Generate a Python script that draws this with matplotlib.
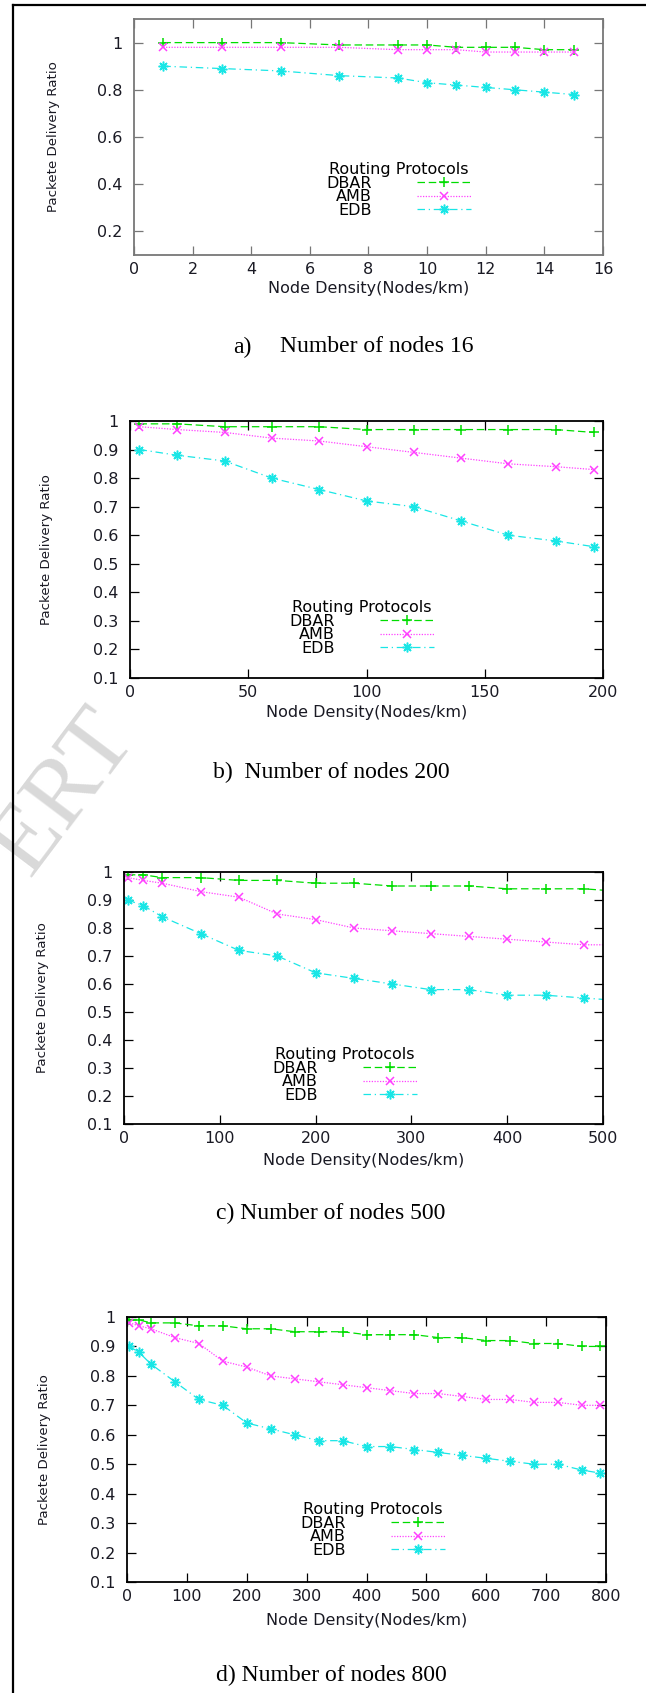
import matplotlib
matplotlib.use("Agg")
import matplotlib.pyplot as plt
from matplotlib.lines import Line2D

# ---- data ----
a_x = [1, 3, 5, 7, 9, 10, 11, 12, 13, 14, 15]
a_dbar = [1.00, 1.00, 1.00, 0.99, 0.99, 0.99, 0.98, 0.98, 0.98, 0.97, 0.97]
a_amb = [0.98, 0.98, 0.98, 0.98, 0.97, 0.97, 0.97, 0.96, 0.96, 0.96, 0.96]
a_edb = [0.90, 0.89, 0.88, 0.86, 0.85, 0.83, 0.82, 0.81, 0.80, 0.79, 0.78]

b_x = [4, 20, 40, 60, 80, 100, 120, 140, 160, 180, 196]
b_dbar = [0.99, 0.99, 0.98, 0.98, 0.98, 0.97, 0.97, 0.97, 0.97, 0.97, 0.96]
b_amb = [0.98, 0.97, 0.96, 0.94, 0.93, 0.91, 0.89, 0.87, 0.85, 0.84, 0.83]
b_edb = [0.90, 0.88, 0.86, 0.80, 0.76, 0.72, 0.70, 0.65, 0.60, 0.58, 0.56]

c_x = [4, 20, 40, 80, 120, 160, 200, 240, 280, 320, 360, 400, 440, 480, 520]
c_dbar = [0.99, 0.99, 0.98, 0.98, 0.97, 0.97, 0.96, 0.96, 0.95, 0.95, 0.95, 0.94, 0.94, 0.94, 0.93]
c_amb = [0.98, 0.97, 0.96, 0.93, 0.91, 0.85, 0.83, 0.80, 0.79, 0.78, 0.77, 0.76, 0.75, 0.74, 0.74]
c_edb = [0.90, 0.88, 0.84, 0.78, 0.72, 0.70, 0.64, 0.62, 0.60, 0.58, 0.58, 0.56, 0.56, 0.55, 0.54]

d_x = [4, 20, 40, 80, 120, 160, 200, 240, 280, 320, 360, 400, 440, 480, 520,
       560, 600, 640, 680, 720, 760, 790]
d_dbar = [0.99, 0.99, 0.98, 0.98, 0.97, 0.97, 0.96, 0.96, 0.95, 0.95, 0.95, 0.94,
          0.94, 0.94, 0.93, 0.93, 0.92, 0.92, 0.91, 0.91, 0.90, 0.90]
d_amb = [0.98, 0.97, 0.96, 0.93, 0.91, 0.85, 0.83, 0.80, 0.79, 0.78, 0.77, 0.76,
         0.75, 0.74, 0.74, 0.73, 0.72, 0.72, 0.71, 0.71, 0.70, 0.70]
d_edb = [0.90, 0.88, 0.84, 0.78, 0.72, 0.70, 0.64, 0.62, 0.60, 0.58, 0.58, 0.56,
         0.56, 0.55, 0.54, 0.53, 0.52, 0.51, 0.50, 0.50, 0.48, 0.47]

protocols = ["DBAR", "AMB", "EDB"]
captions = ["Number of nodes 16", "b)  Number of nodes 200",
            "c) Number of nodes 500", "d) Number of nodes 800"]

W, H = 646, 1693
FS = 11.5      # horizontal sans text
FS_Y = 9.6     # rotated y label (reference text is squashed vertically)

def rect(l, t, r, b):
    return [l / W, 1 - b / H, (r - l) / W, (b - t) / H]

def fx(x):
    return x / W

def fy(y):
    return 1 - y / H

GREEN = "#00dd00"
MAGENTA = "#ff40ff"
CYAN = "#19e6e6"
TXT = "#1a1a24"

fig = plt.figure(figsize=(W / 100, H / 100), dpi=100)
plt.rcParams['font.family'] = ['DejaVu Sans']

# page frame (left and top edges only)
fig.add_artist(Line2D([fx(13), fx(13)], [fy(5), 0], color="black", lw=1.6))
fig.add_artist(Line2D([fx(13), 1], [fy(5), fy(5)], color="black", lw=1.6))

# watermark
fig.text(fx(118), fy(722), "ERT", family="Liberation Serif", fontsize=70,
         color="#d9d9d9", rotation=53, rotation_mode="anchor",
         ha="right", va="center", zorder=0)

panels = [
    dict(box=(134, 19, 603, 255), x=a_x, ys=(a_dbar, a_amb, a_edb),
         xlim=(0, 16), xt=range(0, 17, 2), ylim=(0.1, 1.1),
         yt=[0.2, 0.4, 0.6, 0.8, 1.0], leg=(399, 190), xl=288, yl=54,
         cap=347, frame="#777777"),
    dict(box=(130, 421, 603, 678), x=b_x, ys=(b_dbar, b_amb, b_edb),
         xlim=(0, 200), xt=range(0, 201, 50), ylim=(0.1, 1.0),
         yt=[i / 10 for i in range(1, 11)], leg=(362, 628), xl=713, yl=47,
         cap=772, frame="black"),
    dict(box=(124, 872, 603, 1124), x=c_x, ys=(c_dbar, c_amb, c_edb),
         xlim=(0, 500), xt=range(0, 501, 100), ylim=(0.1, 1.0),
         yt=[i / 10 for i in range(1, 11)], leg=(345, 1075), xl=1160, yl=43,
         cap=1213, frame="black"),
    dict(box=(127, 1317, 606, 1582), x=d_x, ys=(d_dbar, d_amb, d_edb),
         xlim=(0, 800), xt=range(0, 801, 100), ylim=(0.1, 1.0),
         yt=[i / 10 for i in range(1, 11)], leg=(373, 1530), xl=1620, yl=45,
         cap=1675, frame="black"),
]

styles = [
    dict(color=GREEN, ls=(0, (6, 3)), marker="+", ms=7),
    dict(color=MAGENTA, ls=(0, (1, 1.2)), marker="x", ms=5.5),
    dict(color=CYAN, ls=(0, (6, 3, 1, 3)), marker=(8, 2, 0), ms=7),
]

for i, p in enumerate(panels):
    l, t, r, b = p["box"]
    ax = fig.add_axes(rect(l, t, r, b))
    for name, y, st in zip(protocols, p["ys"], styles):
        ax.plot(p["x"], y, color=st["color"], linestyle=st["ls"], lw=0.9,
                marker=st["marker"], markersize=st["ms"], mew=1.1, label=name)
    ax.set_xlim(p["xlim"])
    ax.set_ylim(p["ylim"])
    ax.set_xticks(list(p["xt"]))
    ax.set_xticklabels([f"{v:g}" for v in p["xt"]])
    ax.set_yticks(p["yt"])
    ax.set_yticklabels([f"{v:g}" for v in p["yt"]])
    ax.tick_params(direction="in", top=True, right=True, length=6.5, width=0.9,
                   labelsize=FS, colors=p["frame"], labelcolor=TXT)
    ax.tick_params(axis="y", pad=8.5)
    ax.tick_params(axis="x", pad=5)
    for s in ax.spines.values():
        s.set_color(p["frame"])
        s.set_linewidth(1.3)

    ax.legend(title="Routing Protocols", markerfirst=False, frameon=False,
              loc="center", bbox_to_anchor=(fx(p["leg"][0]), fy(p["leg"][1])),
              bbox_transform=fig.transFigure, handlelength=3.4,
              handletextpad=2.8, labelspacing=-0.08, borderpad=0,
              numpoints=1, fontsize=FS, title_fontsize=FS)

    fig.text(fx((l + r) / 2), fy(p["xl"]), "Node Density(Nodes/km)",
             fontsize=FS, ha="center", va="center", color=TXT)
    fig.text(fx(p["yl"]), fy((t + b) / 2), "Packete Delivery Ratio",
             fontsize=FS_Y, rotation=90, ha="center", va="center", color=TXT)

# captions
fig.text(fx(233), fy(panels[0]["cap"]), "a)", family="Liberation Serif",
         fontsize=17, ha="left", va="center")
fig.text(fx(280), fy(panels[0]["cap"]), captions[0], family="Liberation Serif",
         fontsize=17, ha="left", va="center")
for p, cap in zip(panels[1:], captions[1:]):
    fig.text(fx(331), fy(p["cap"]), cap, family="Liberation Serif",
             fontsize=17, ha="center", va="center")

fig.savefig("out.png", dpi=100)
